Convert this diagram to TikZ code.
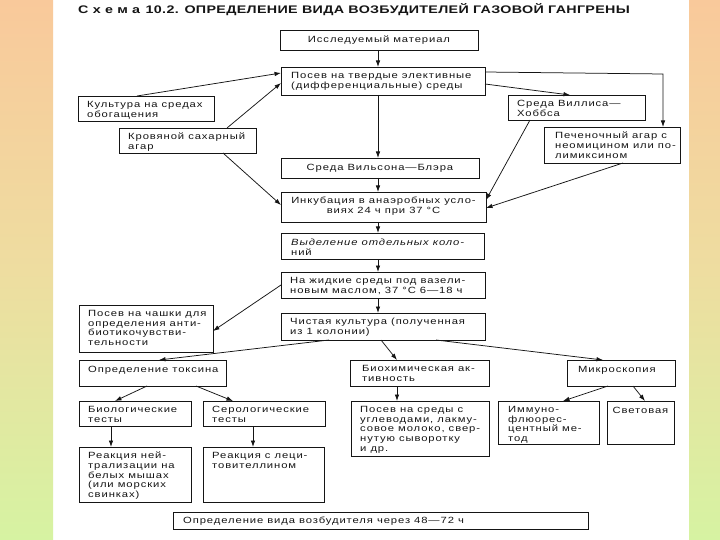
\documentclass[tikz,border=0pt]{standalone}
\usepackage{fontspec}
\setmainfont{Liberation Sans}[FakeStretch=1.25,LetterSpace=10]
\newfontfamily\titlefont{Liberation Sans}[FakeStretch=1.3,LetterSpace=3]
\usetikzlibrary{arrows.meta,calc}
\definecolor{ink}{HTML}{151515}
\definecolor{bgtop}{HTML}{F9C99B}
\definecolor{bgmid}{HTML}{EEDDA0}
\definecolor{bgbot}{HTML}{D6F3A2}
\tikzset{
  box/.style={draw=ink, line width=0.9pt, anchor=north west, inner sep=0pt, outer sep=0pt},
  txt/.style={anchor=north west, inner sep=0pt, align=left, text=ink},
  ctxt/.style={anchor=north, inner sep=0pt, align=center, text=ink},
  arr/.style={draw=ink, line width=0.75pt, -{Latex[length=6.5pt,width=4.5pt]}},
  bgstrip/.style={top color=bgtop, bottom color=bgbot, middle color=bgmid}
}
\newcommand\Bx[5]{\node[box, minimum width=#4pt, minimum height=#5pt] (#1) at (#2,#3) {};}
\begin{document}
\begin{tikzpicture}[x=1pt,y=-1pt,font=\fontsize{9}{9.7}\selectfont]
\useasboundingbox (0,0) rectangle (720,540);
\fill[white] (0,0) rectangle (720,540);
\shade[bgstrip] (0,0) rectangle (53,540);
\shade[bgstrip] (689,0) rectangle (720,540);

% title
\node[anchor=base west, inner sep=0pt, text=ink] (title) at (78,14)
  {\titlefont\fontsize{11}{12}\selectfont\bfseries С х е м а\enspace 10.2. ОПРЕДЕЛЕНИЕ ВИДА ВОЗБУДИТЕЛЕЙ ГАЗОВОЙ ГАНГРЕНЫ};

% boxes: name, x, y, width, height
\Bx{issl}{280}{30}{198}{20}
\Bx{posev}{281}{67}{204}{28}
\Bx{kult}{78}{96}{136}{25}
\Bx{villis}{508}{95}{137}{25}
\Bx{krov}{119}{128}{137}{25}
\Bx{pechen}{544}{127}{136}{36}
\Bx{wilson}{281}{158}{198}{20}
\Bx{inkub}{281}{192}{205}{30}
\Bx{vydel}{281}{233}{203}{26}
\Bx{zhidk}{281}{272}{204}{26}
\Bx{chashki}{79}{305}{134}{47}
\Bx{chist}{281}{313}{204}{27}
\Bx{toks}{79}{360}{147}{26}
\Bx{biochem}{350}{360}{139}{26}
\Bx{mikro}{567}{360}{108}{26}
\Bx{biol}{79}{401}{112}{25}
\Bx{serol}{203}{401}{122}{25}
\Bx{posevsr}{351}{401}{138}{55}
\Bx{immuno}{498}{401}{101}{43}
\Bx{svet}{607}{401}{67}{43}
\Bx{reakn}{79}{447}{112}{55}
\Bx{reakl}{203}{447}{121}{55}
\Bx{final}{173}{512}{415}{17}

% texts
\node[ctxt] at ($(issl.north)+(0,6)$) {Исследуемый материал};
\node[txt] at ($(posev.north west)+(10,5)$) {Посев на твердые элективные\\(дифференциальные) среды};
\node[txt] at ($(kult.north west)+(9,5)$) {Культура на средах\\обогащения};
\node[txt] at ($(villis.north west)+(9,5)$) {Среда Виллиса—\\Хоббса};
\node[txt] at ($(krov.north west)+(9,5)$) {Кровяной сахарный\\агар};
\node[txt] at ($(pechen.north west)+(11,5)$) {Печеночный агар с\\неомицином или по-\\лимиксином};
\node[ctxt] at ($(wilson.north)+(0,6)$) {Среда Вильсона—Блэра};
\node[ctxt] at ($(inkub.north)+(0,5)$) {Инкубация в анаэробных усло-\\виях 24 ч при 37 °С};
\node[txt] at ($(vydel.north west)+(10,6)$) {\itshape Выделение отдельных коло-\\ний};
\node[txt] at ($(zhidk.north west)+(9,5)$) {На жидкие среды под вазели-\\новым маслом, 37 °С 6—18 ч};
\node[txt] at ($(chashki.north west)+(9,5)$) {Посев на чашки для\\определения анти-\\биотикочувстви-\\тельности};
\node[txt] at ($(chist.north west)+(9,5)$) {Чистая культура (полученная\\из 1 колонии)};
\node[txt] at ($(toks.north west)+(9,6)$) {Определение токсина};
\node[txt] at ($(biochem.north west)+(12,5)$) {Биохимическая ак-\\тивность};
\node[txt] at ($(mikro.north west)+(11,6)$) {Микроскопия};
\node[txt] at ($(biol.north west)+(9,5)$) {Биологические\\тесты};
\node[txt] at ($(serol.north west)+(9,5)$) {Серологические\\тесты};
\node[txt] at ($(posevsr.north west)+(9,5)$) {Посев на среды с\\углеводами, лакму-\\совое молоко, свер-\\нутую сыворотку\\и др.};
\node[txt] at ($(immuno.north west)+(10,5)$) {Иммуно-\\флюорес-\\центный ме-\\тод};
\node[ctxt] at ($(svet.north)+(0,6)$) {Световая};
\node[txt] at ($(reakn.north west)+(9,5)$) {Реакция ней-\\трализации на\\белых мышах\\(или морских\\свинках)};
\node[txt] at ($(reakl.north west)+(9,5)$) {Реакция с леци-\\товителлином};
\node[txt] at ($(final.north west)+(10,5)$) {Определение вида возбудителя через 48—72 ч};

% connectors
\coordinate (sp) at ($(issl.south west)+(98,0)$);
\draw[arr] (sp) -- (sp |- posev.north);
\draw[arr] ($(kult.north west)+(59,0)$) -- ($(posev.north west)+(0,6)$);
\draw[arr] ($(krov.north west)+(108,0)$) -- ($(posev.north west)+(0,16)$);
\draw[arr] ($(krov.south west)+(104,0)$) -- ($(inkub.north west)+(0,13)$);
\draw[arr] ($(posev.north east)+(0,17)$) -- ($(villis.north west)+(62,0)$);
\coordinate (cr) at (663,74);
\draw[arr] ($(posev.north east)+(0,5)$) -- (cr) -- (cr |- pechen.north);
\draw[arr] (sp |- posev.south) -- (sp |- wilson.north);
\draw[arr] (sp |- wilson.south) -- (sp |- inkub.north);
\draw[arr] ($(villis.south west)+(22,0)$) -- ($(inkub.north east)+(0,8)$);
\draw[arr] ($(pechen.south west)+(79,0)$) -- ($(inkub.north east)+(0,16)$);
\draw[arr] (sp |- inkub.south) -- (sp |- vydel.north);
\draw[arr] (sp |- vydel.south) -- (sp |- zhidk.north);
\draw[arr] ($(zhidk.north west)+(0,13)$) -- ($(chashki.north east)+(0,26)$);
\draw[arr] (sp |- zhidk.south) -- (sp |- chist.north);
\draw[arr] ($(chist.south west)+(48,0)$) -- ($(toks.north west)+(80,0)$);
\draw[arr] ($(chist.south west)+(100,0)$) -- ($(biochem.north west)+(47,0)$);
\draw[arr] ($(chist.south west)+(155,0)$) -- ($(mikro.north west)+(36,0)$);
\draw[arr] ($(toks.south west)+(68,0)$) -- ($(biol.north west)+(36,0)$);
\draw[arr] ($(toks.south west)+(117,0)$) -- ($(serol.north west)+(30,0)$);
\coordinate (bl) at ($(biol.south west)+(32,0)$);
\draw[arr] (bl) -- (bl |- reakn.north);
\coordinate (sl) at ($(serol.south west)+(50,0)$);
\draw[arr] (sl) -- (sl |- reakl.north);
\coordinate (bc) at ($(biochem.south west)+(47,0)$);
\draw[arr] (bc) -- (bc |- posevsr.north);
\draw[arr] ($(mikro.south west)+(41,0)$) -- ($(immuno.north west)+(65,0)$);
\draw[arr] ($(mikro.south west)+(66,0)$) -- ($(svet.north west)+(38,0)$);
\end{tikzpicture}
\end{document}
